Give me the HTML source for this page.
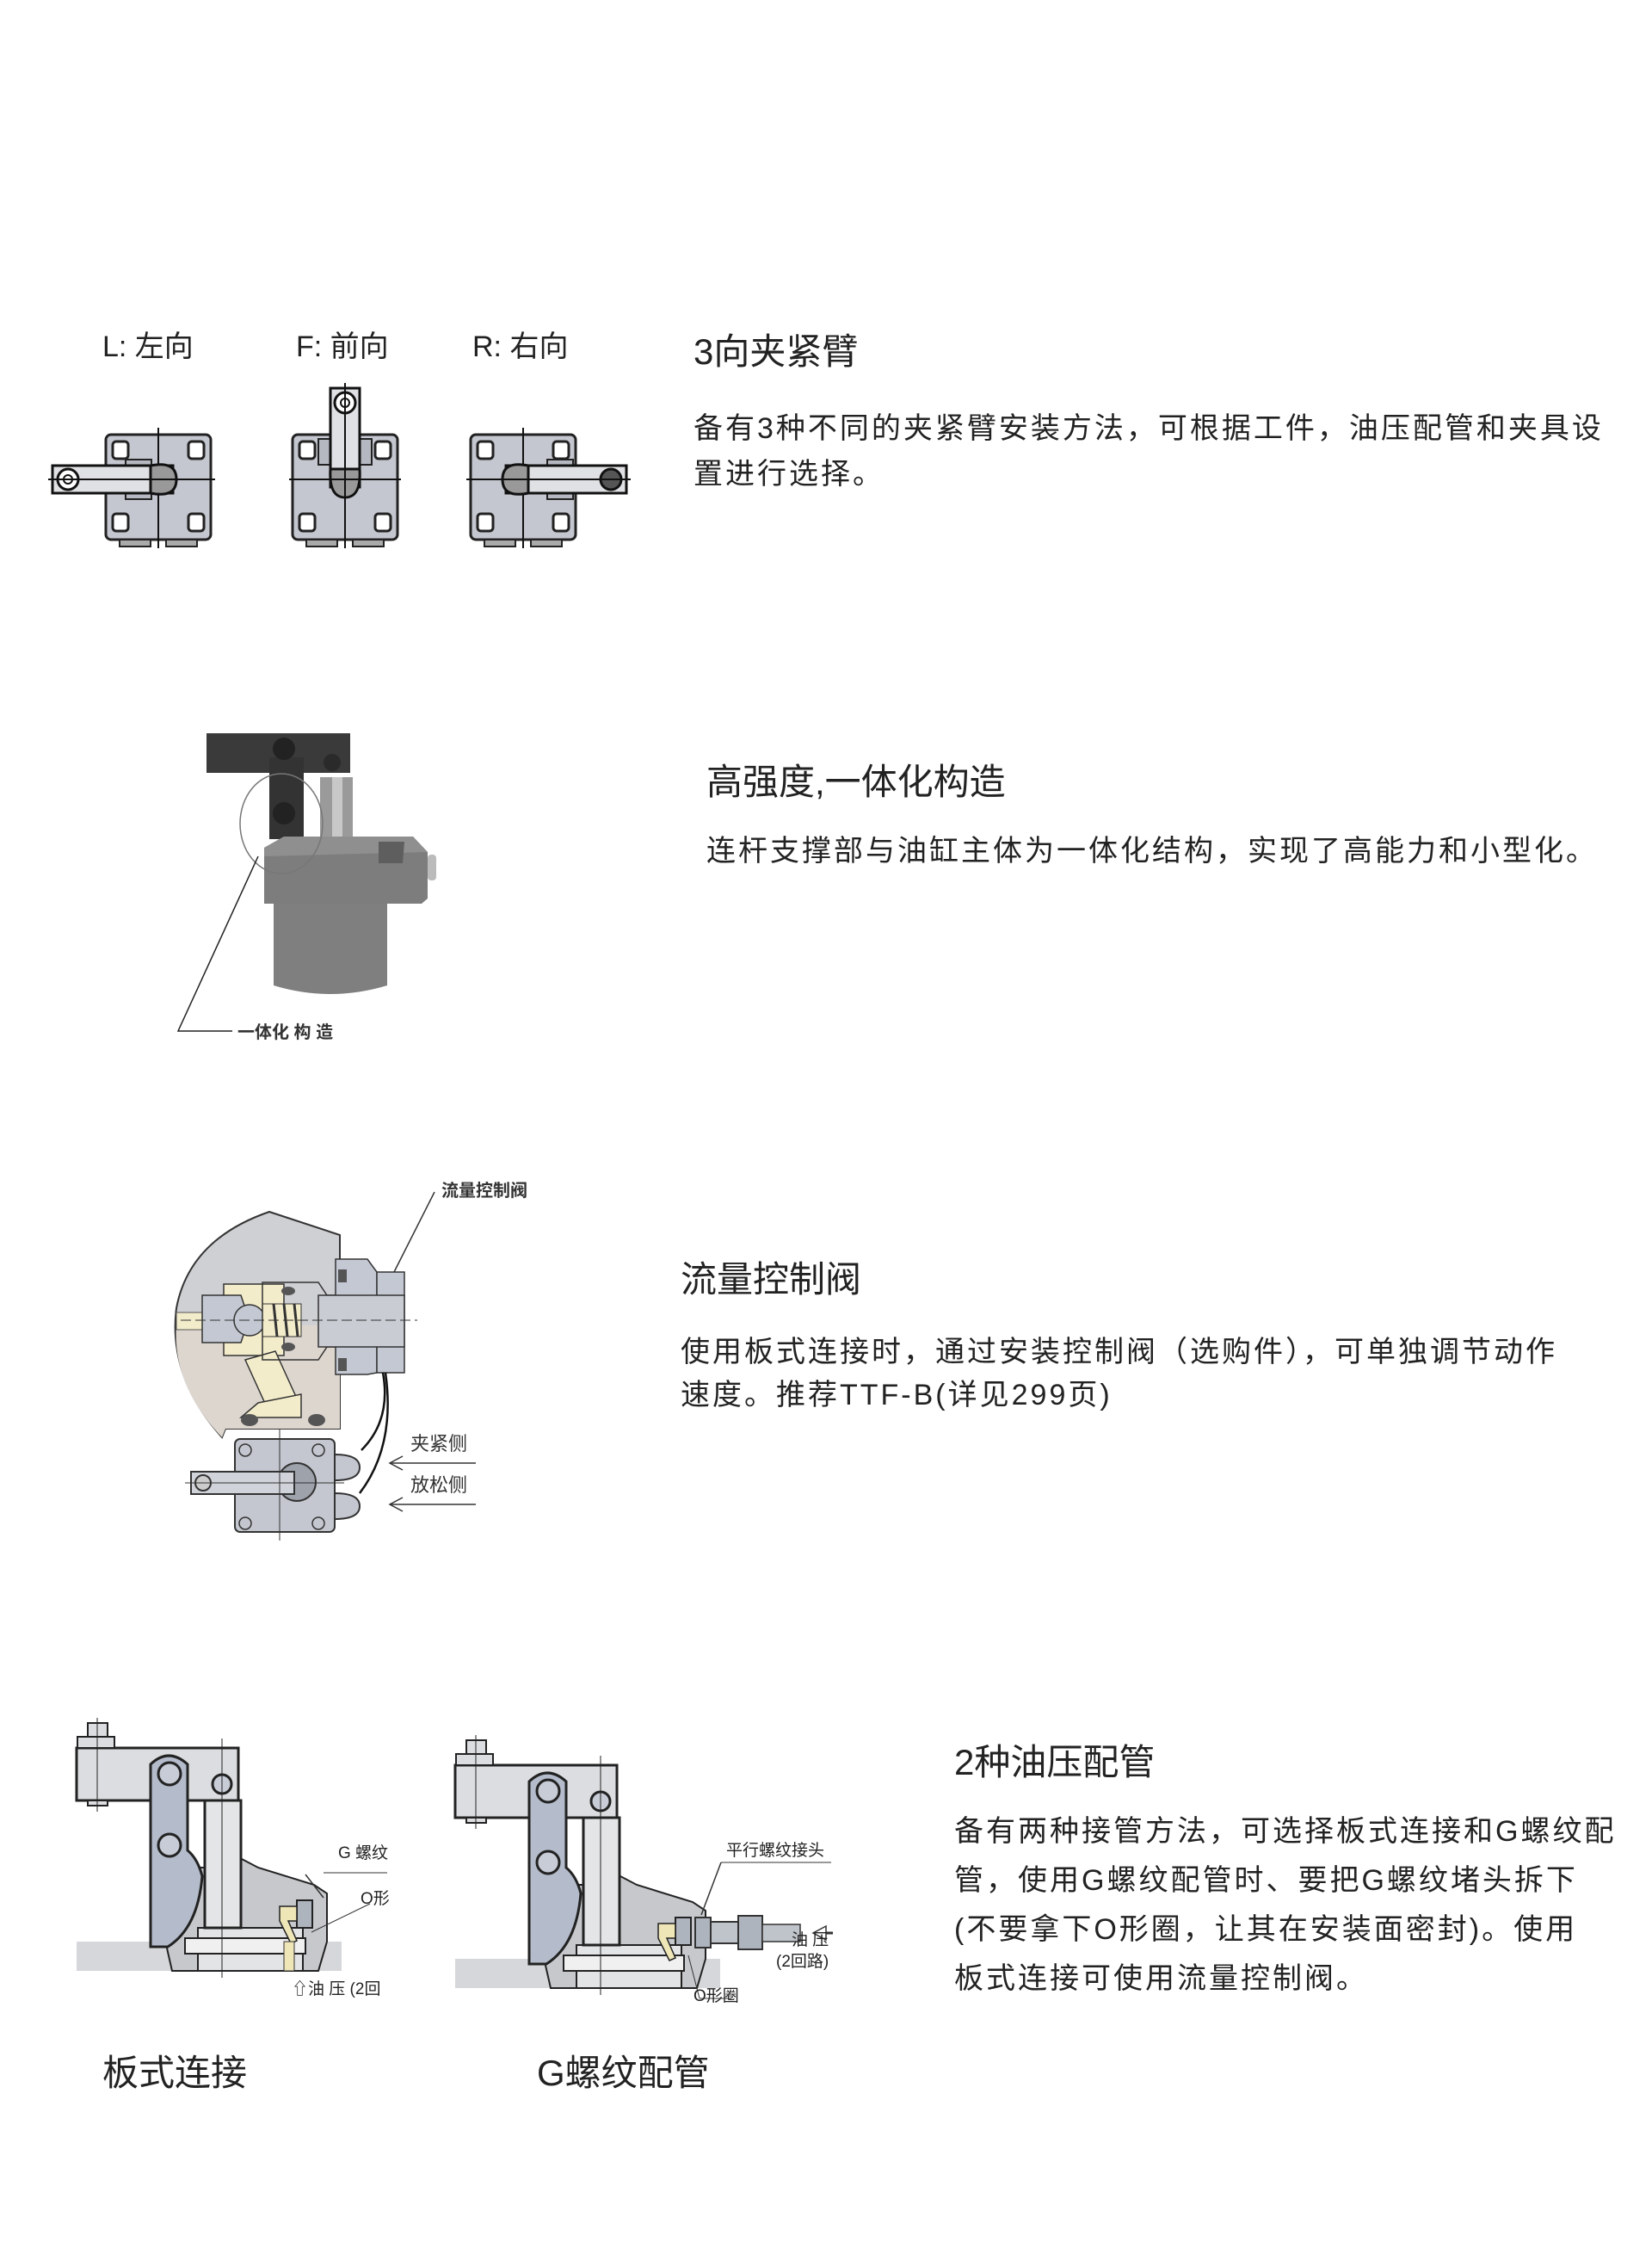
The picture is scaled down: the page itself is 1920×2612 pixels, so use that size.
<!DOCTYPE html>
<html><head><meta charset="utf-8">
<style>
html,body{margin:0;padding:0;background:#fff;}
svg{display:block;}
text{font-family:"Liberation Sans","Noto Sans CJK SC",sans-serif;fill:#222;}
.t{font-size:42px;}
.b{font-size:34px;letter-spacing:3px;}
.s{font-size:20px;font-weight:bold;fill:#333;}
</style></head><body>
<svg width="1920" height="2612" viewBox="0 0 1920 2612" xmlns="http://www.w3.org/2000/svg">
<defs>
<g id="blk">
  <rect x="0" y="0" width="122" height="122" rx="6" fill="#c4c7cf" stroke="#222" stroke-width="3"/>
  <rect x="8" y="8" width="18" height="20" rx="4" fill="#fff" stroke="#222" stroke-width="3"/>
  <rect x="96" y="8" width="18" height="20" rx="4" fill="#fff" stroke="#222" stroke-width="3"/>
  <rect x="8" y="92" width="18" height="20" rx="4" fill="#fff" stroke="#222" stroke-width="3"/>
  <rect x="96" y="92" width="18" height="20" rx="4" fill="#fff" stroke="#222" stroke-width="3"/>
  <rect x="16" y="122" width="36" height="8" fill="#aaa" stroke="#222" stroke-width="2"/>
  <rect x="70" y="122" width="36" height="8" fill="#aaa" stroke="#222" stroke-width="2"/>
  <line x1="61" y1="-8" x2="61" y2="132" stroke="#111" stroke-width="2"/>
</g>
<g id="clamp">
  <rect x="89" y="2256" width="308" height="34" fill="#d6d7da"/>
  <path d="M175 2180 L210 2170 L262 2170 L262 2150 L300 2170 L365 2190 L380 2200 L380 2256 L370 2290 L200 2290 Z" fill="#c6c8cc" stroke="#222" stroke-width="2"/>
  <path d="M230 2240 L352 2240 L352 2290 L230 2290 Z" fill="#e3e4e6" stroke="#222" stroke-width="2"/>
  <rect x="215" y="2252" width="140" height="18" fill="#f0f0f0" stroke="#222" stroke-width="2"/>
  <rect x="89" y="2031" width="188" height="61" fill="#dcdde0" stroke="#222" stroke-width="3"/>
  <rect x="90" y="2018" width="43" height="13" fill="#dcdde0" stroke="#222" stroke-width="2"/>
  <rect x="102" y="2002" width="23" height="16" fill="#dcdde0" stroke="#222" stroke-width="2"/>
  <rect x="102" y="2092" width="23" height="6" fill="#dcdde0" stroke="#222" stroke-width="2"/>
  <line x1="113" y1="1996" x2="113" y2="2105" stroke="#222" stroke-width="1"/>
  <path d="M175 2050 Q196 2030 218 2050 L218 2150 Q230 2160 235 2180 Q230 2240 195 2262 L175 2262 Z" fill="#b4bccb" stroke="#222" stroke-width="3"/>
  <circle cx="197" cy="2061" r="13" fill="#c7ccd6" stroke="#222" stroke-width="3"/>
  <circle cx="197" cy="2144" r="13" fill="#c7ccd6" stroke="#222" stroke-width="3"/>
  <circle cx="258" cy="2073" r="11" fill="#c7ccd6" stroke="#222" stroke-width="3"/>
  <rect x="238" y="2092" width="42" height="148" fill="#e4e5e7" stroke="#222" stroke-width="3"/>
  <line x1="258" y1="2020" x2="258" y2="2298" stroke="#222" stroke-width="1"/>
  <rect x="345" y="2208" width="18" height="32" fill="#aeb4bd" stroke="#222" stroke-width="2"/>
  <path d="M325 2215 L345 2215 L345 2232 L335 2232 L345 2255 L338 2258 L325 2232 Z" fill="#efe6b8" stroke="#222" stroke-width="1.5"/>
</g>
</defs>

<text x="119" y="414" style="font-size:34px">L:  左向</text>
<text x="344" y="414" style="font-size:34px">F: 前向</text>
<text x="549" y="414" style="font-size:34px">R: 右向</text>

<use href="#blk" x="123" y="505"/>
<rect x="146" y="534" width="30" height="46" fill="#b5b8c0" stroke="#222" stroke-width="2"/>
<rect x="61" y="541" width="140" height="32" fill="#e0e1e4" stroke="#111" stroke-width="3"/>
<path d="M175 541 Q205 535 205 557 Q205 579 175 573 Z" fill="#999" stroke="#111" stroke-width="3"/>
<circle cx="79" cy="557" r="12" fill="#fff" stroke="#111" stroke-width="3"/>
<circle cx="79" cy="557" r="5" fill="none" stroke="#111" stroke-width="2"/>
<line x1="56" y1="557" x2="250" y2="557" stroke="#111" stroke-width="2"/>

<use href="#blk" x="340" y="505"/>
<rect x="370" y="510" width="62" height="30" fill="#b5b8c0" stroke="#222" stroke-width="2"/>
<rect x="384" y="451" width="34" height="115" fill="#e0e1e4" stroke="#111" stroke-width="3"/>
<path d="M384 545 Q382 578 401 578 Q420 578 418 545 Z" fill="#999" stroke="#111" stroke-width="3"/>
<circle cx="401" cy="468" r="12" fill="#fff" stroke="#111" stroke-width="3"/>
<circle cx="401" cy="468" r="5" fill="none" stroke="#111" stroke-width="2"/>
<line x1="401" y1="445" x2="401" y2="635" stroke="#111" stroke-width="2"/>
<line x1="336" y1="557" x2="466" y2="557" stroke="#111" stroke-width="2"/>

<use href="#blk" x="547" y="505"/>
<rect x="636" y="534" width="30" height="46" fill="#b5b8c0" stroke="#222" stroke-width="2"/>
<rect x="588" y="541" width="140" height="32" fill="#e0e1e4" stroke="#111" stroke-width="3"/>
<path d="M614 541 Q584 535 584 557 Q584 579 614 573 Z" fill="#999" stroke="#111" stroke-width="3"/>
<circle cx="710" cy="557" r="12" fill="#555" stroke="#111" stroke-width="3"/>
<line x1="542" y1="557" x2="733" y2="557" stroke="#111" stroke-width="2"/>

<text class="t" x="806" y="423">3向夹紧臂</text>
<text class="b" x="806" y="509">备有3种不同的夹紧臂安装方法，可根据工件，油压配管和夹具设</text>
<text class="b" x="806" y="562">置进行选择。</text>

<rect x="240" y="852" width="167" height="46" fill="#3a3a3a"/>
<rect x="313" y="880" width="40" height="95" fill="#333"/>
<circle cx="330" cy="870" r="13" fill="#222"/>
<circle cx="330" cy="945" r="13" fill="#222"/>
<circle cx="386" cy="886" r="10" fill="#2a2a2a"/>
<rect x="372" y="903" width="38" height="72" fill="#9a9a9a"/>
<rect x="386" y="903" width="12" height="72" fill="#c8c8c8"/>
<path d="M307 985 L330 972 L480 972 L497 990 L497 1044 L490 1050 L307 1050 Z" fill="#7d7d7d"/>
<path d="M307 985 L330 972 L480 972 L497 990 L307 995 Z" fill="#8f8f8f"/>
<path d="M440 978 L470 978 L468 1003 L440 1003 Z" fill="#5e5e5e"/>
<rect x="497" y="993" width="10" height="30" rx="4" fill="#bbb"/>
<path d="M318 1050 L450 1050 L450 1145 Q384 1165 318 1145 Z" fill="#7f7f7f"/>
<ellipse cx="327" cy="957" rx="48" ry="58" fill="none" stroke="#777" stroke-width="1.5"/>
<path d="M300 995 L207 1198 L270 1198" fill="none" stroke="#222" stroke-width="1.5"/>
<text class="s" x="276" y="1206">一体化 构 造</text>

<text class="t" x="821" y="923">高强度,一体化构造</text>
<text class="b" x="821" y="1000">连杆支撑部与油缸主体为一体化结构，实现了高能力和小型化。</text>

<path d="M313 1408 L395 1435 L395 1660 L262 1660 L258 1670 Q195 1600 205 1520 Q220 1440 313 1408 Z" fill="#cfd0d4" stroke="#333" stroke-width="2"/>
<path d="M205 1540 L395 1540 L395 1660 L262 1660 L258 1670 Q200 1610 205 1540 Z" fill="#ddd6cf"/>
<path d="M205 1525 L235 1525 L235 1545 L205 1545 Z" fill="#f3eccb" stroke="#555" stroke-width="1"/>
<path d="M260 1492 L330 1492 L330 1575 L260 1575 Z" fill="#f3eccb" stroke="#333" stroke-width="1.5"/>
<path d="M285 1580 L320 1570 L345 1625 L310 1635 Z" fill="#f3eccb" stroke="#333" stroke-width="1.5"/>
<path d="M300 1630 L350 1620 L350 1647 L280 1647 Z" fill="#f3eccb" stroke="#333" stroke-width="1.5"/>
<ellipse cx="290" cy="1650" rx="10" ry="7" fill="#555"/>
<ellipse cx="368" cy="1650" rx="10" ry="7" fill="#555"/>
<path d="M235 1505 L280 1505 L285 1520 L285 1545 L280 1560 L235 1560 Z" fill="#c3c8d2" stroke="#333" stroke-width="1.5"/>
<circle cx="290" cy="1534" r="18" fill="#c3c8d2" stroke="#333" stroke-width="1.5"/>
<rect x="305" y="1515" width="45" height="38" fill="#f3eccb" stroke="#333" stroke-width="1"/>
<g stroke="#333" stroke-width="3"><line x1="318" y1="1515" x2="322" y2="1553"/><line x1="330" y1="1515" x2="334" y2="1553"/><line x1="342" y1="1515" x2="346" y2="1553"/></g>
<path d="M305 1490 L370 1490 L380 1505 L420 1505 L420 1565 L380 1565 L370 1580 L305 1580 Z" fill="none" stroke="#333" stroke-width="1.5"/>
<path d="M390 1463 L427 1463 L438 1478 L438 1595 L427 1597 L390 1597 Z" fill="#c3c8d2" stroke="#333" stroke-width="1.5"/>
<rect x="438" y="1478" width="32" height="117" fill="#c3c8d2" stroke="#333" stroke-width="1.5"/>
<rect x="370" y="1505" width="100" height="60" fill="#c9ccd3" stroke="#333" stroke-width="1.5"/>
<rect x="393" y="1475" width="10" height="15" fill="#555"/>
<rect x="393" y="1578" width="10" height="15" fill="#555"/>
<ellipse cx="335" cy="1500" rx="8" ry="5" fill="#555"/>
<ellipse cx="335" cy="1565" rx="8" ry="5" fill="#555"/>
<line x1="210" y1="1534" x2="485" y2="1534" stroke="#333" stroke-width="1" stroke-dasharray="12,5"/>
<line x1="458" y1="1478" x2="505" y2="1385" stroke="#333" stroke-width="1.5"/>
<text class="s" x="513" y="1390">流量控制阀</text>
<path d="M445 1595 Q455 1650 420 1685" fill="none" stroke="#111" stroke-width="2.5"/>
<path d="M448 1595 Q460 1680 418 1735" fill="none" stroke="#111" stroke-width="2.5"/>
<rect x="273" y="1672" width="116" height="108" rx="6" fill="#c4c7cf" stroke="#333" stroke-width="2"/>
<path d="M389 1690 Q418 1690 418 1705 Q418 1720 389 1720 Z" fill="#c4c7cf" stroke="#333" stroke-width="2"/>
<path d="M389 1735 Q418 1735 418 1750 Q418 1765 389 1765 Z" fill="#c4c7cf" stroke="#333" stroke-width="2"/>
<circle cx="345" cy="1722" r="22" fill="#9da2ab" stroke="#333" stroke-width="2"/>
<rect x="222" y="1710" width="120" height="26" fill="#d0d3d9" stroke="#333" stroke-width="2"/>
<circle cx="236" cy="1723" r="9" fill="#ccc" stroke="#333" stroke-width="2"/>
<line x1="325" y1="1660" x2="325" y2="1790" stroke="#333" stroke-width="1"/>
<line x1="215" y1="1723" x2="400" y2="1723" stroke="#333" stroke-width="1"/>
<g fill="none" stroke="#333" stroke-width="1.5"><circle cx="285" cy="1685" r="7"/><circle cx="370" cy="1685" r="7"/><circle cx="285" cy="1770" r="7"/><circle cx="370" cy="1770" r="7"/></g>
<g stroke="#333" stroke-width="1.5" fill="none"><line x1="453" y1="1700" x2="553" y2="1700"/><path d="M468 1692 L453 1700 L468 1708"/><line x1="453" y1="1748" x2="553" y2="1748"/><path d="M468 1740 L453 1748 L468 1756"/></g>
<text class="s" x="477" y="1685" style="font-size:22px;font-weight:normal">夹紧侧</text>
<text class="s" x="477" y="1733" style="font-size:22px;font-weight:normal">放松侧</text>

<text class="t" x="791" y="1501">流量控制阀</text>
<text class="b" x="791" y="1582">使用板式连接时，通过安装控制阀（选购件），可单独调节动作</text>
<text class="b" x="791" y="1632">速度。推荐TTF-B(详见299页)</text>

<use href="#clamp"/>
<rect x="330" y="2256" width="12" height="34" fill="#efe6b8" stroke="#333" stroke-width="1"/>
<path d="M355 2178 L376 2205" stroke="#333" stroke-width="1.5" fill="none"/>
<line x1="376" y1="2176" x2="450" y2="2176" stroke="#333" stroke-width="1"/>
<line x1="362" y1="2245" x2="430" y2="2212" stroke="#333" stroke-width="1"/>
<text style="font-size:19px" x="393" y="2159">G 螺纹</text>
<text style="font-size:19px" x="419" y="2212">O形</text>
<text style="font-size:19px" x="339" y="2317">⇧油 压 (2回</text>

<use href="#clamp" x="440" y="20"/>
<rect x="808" y="2228" width="18" height="35" fill="#aeb4bd" stroke="#333" stroke-width="2"/>
<rect x="826" y="2233" width="32" height="25" fill="#bfc3ca" stroke="#333" stroke-width="2"/>
<rect x="858" y="2226" width="28" height="39" fill="#aeb4bd" stroke="#333" stroke-width="2"/>
<rect x="886" y="2236" width="44" height="20" fill="#bfc3ca" stroke="#333" stroke-width="1.5"/>
<path d="M960 2238 L945 2246 L960 2254 Z" fill="#fff" stroke="#333" stroke-width="1.5"/>
<line x1="960" y1="2246" x2="968" y2="2246" stroke="#333" stroke-width="3"/>
<line x1="838" y1="2164" x2="966" y2="2164" stroke="#333" stroke-width="1"/>
<line x1="838" y1="2164" x2="815" y2="2225" stroke="#333" stroke-width="1.5"/>
<line x1="800" y1="2272" x2="813" y2="2322" stroke="#333" stroke-width="1"/>
<line x1="813" y1="2322" x2="850" y2="2322" stroke="#333" stroke-width="1"/>
<text style="font-size:19px" x="844" y="2156">平行螺纹接头</text>
<text style="font-size:19px" x="920" y="2260">油 压</text>
<text style="font-size:19px" x="902" y="2285">(2回路)</text>
<text style="font-size:19px" x="806" y="2325">O形圈</text>

<text style="font-size:42px" x="119" y="2423">板式连接</text>
<text style="font-size:42px" x="624" y="2423">G螺纹配管</text>

<text class="t" x="1109" y="2062">2种油压配管</text>
<text class="b" x="1109" y="2139">备有两种接管方法，可选择板式连接和G螺纹配</text>
<text class="b" x="1109" y="2196">管，使用G螺纹配管时、要把G螺纹堵头拆下</text>
<text class="b" x="1109" y="2253">(不要拿下O形圈，让其在安装面密封)。使用</text>
<text class="b" x="1109" y="2310">板式连接可使用流量控制阀。</text>
</svg>
</body></html>
